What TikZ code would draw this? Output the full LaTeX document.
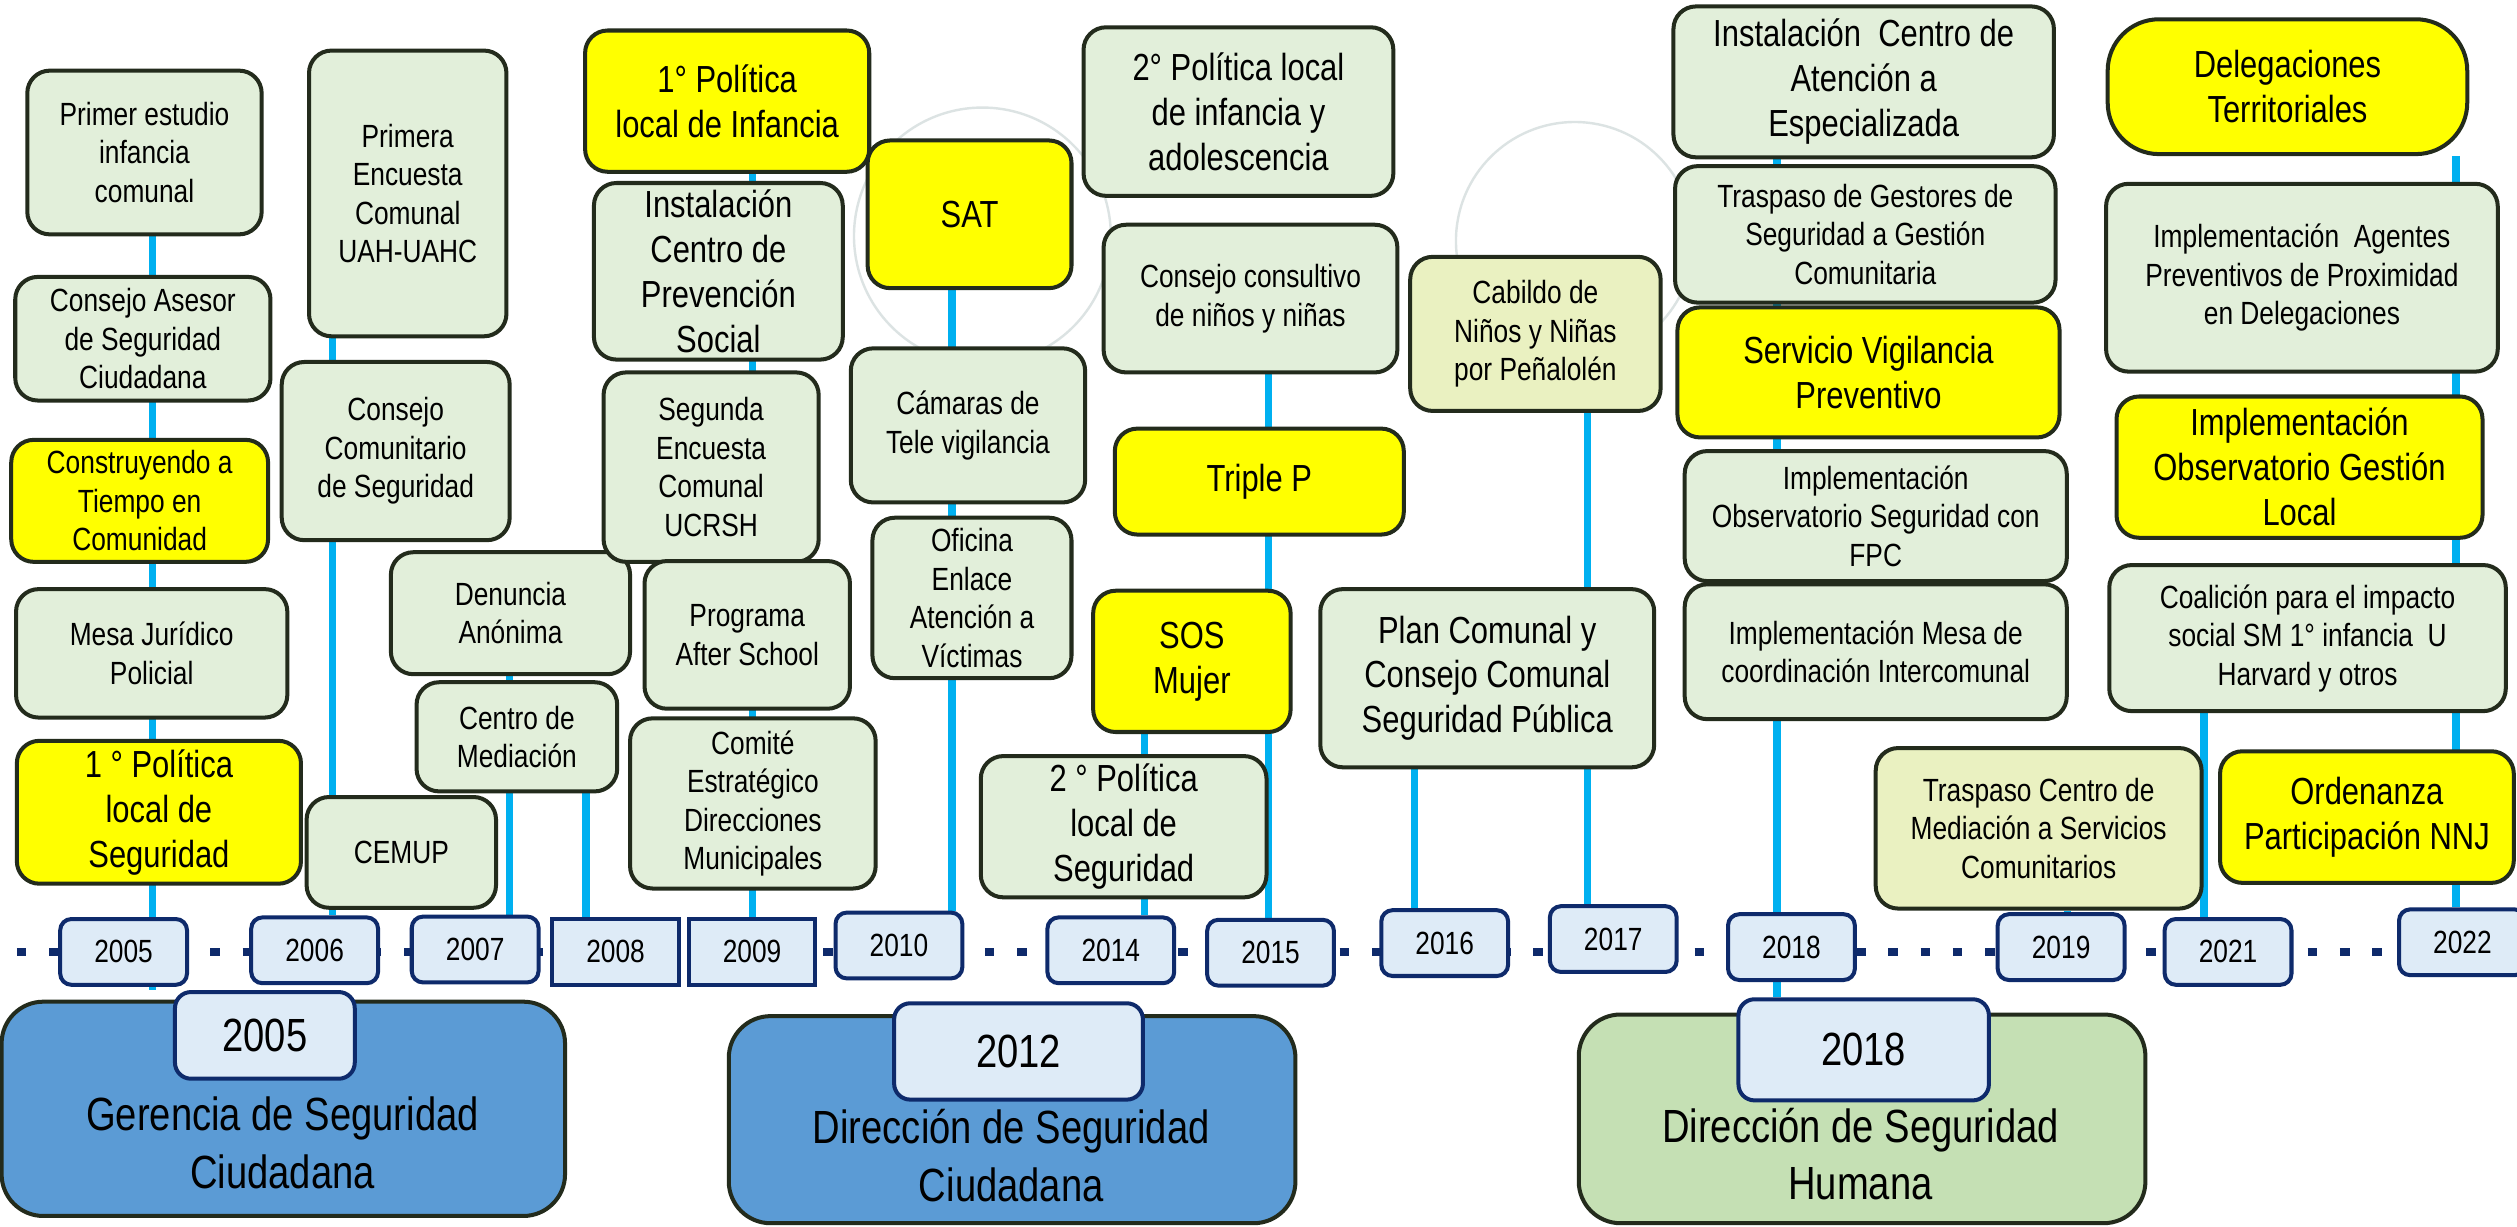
\documentclass[tikz,border=0pt]{standalone}
\usepackage{fontspec}
\setmainfont{Liberation Sans}[FakeStretch=0.82]
\usetikzlibrary{backgrounds}
\definecolor{boxgreen}{HTML}{E2EFDA}
\definecolor{boxyellow}{HTML}{FFFF00}
\definecolor{boxlime}{HTML}{EAF1C1}
\definecolor{boxline}{HTML}{232B1C}
\definecolor{lineblue}{HTML}{00B0F0}
\definecolor{yrfill}{HTML}{DEEBF7}
\definecolor{yrline}{HTML}{0E2A6B}
\definecolor{erablue}{HTML}{5B9BD5}
\definecolor{eragreen}{HTML}{C5E0B4}
\definecolor{faint}{HTML}{DCE3E3}
\newcommand{\tsm}{\fontsize{20}{24}\selectfont}
\newcommand{\tmd}{\fontsize{23.5}{28}\selectfont}
\newcommand{\tbg}{\fontsize{29}{36}\selectfont}
\tikzset{
  evt/.style={draw=boxline, line width=2.5pt, rounded corners=14pt, fill=boxgreen,
    align=center, inner sep=1pt, font=\tsm},
  evtm/.style={evt, font=\tmd},
  evty/.style={evt, fill=boxyellow, font=\tmd},
  evtl/.style={evt, fill=boxlime},
  yr/.style={draw=yrline, line width=2.5pt, rounded corners=7pt, fill=yrfill,
    minimum width=79pt, minimum height=41pt, font=\tsm},
  yrsq/.style={yr, sharp corners},
  tab/.style={yr, rounded corners=10pt, font=\tbg},
  era/.style={draw=boxline, line width=2.5pt, rounded corners=26pt},
  tline/.style={draw=lineblue, line width=4.5pt},
}
\begin{document}
\begin{tikzpicture}[x=1pt,y=-1pt]
\useasboundingbox (0,0) rectangle (1568,764);
% 2005
\node[evt, minimum width=146pt, minimum height=102pt] (a05) at (90,95) {Primer estudio\\infancia\\comunal};
\node[evt, minimum width=159pt, minimum height=77pt] (b05) at (89,211) {Consejo Asesor\\de Seguridad\\Ciudadana};
\node[evty, font=\tsm, minimum width=160pt, minimum height=76pt] (c05) at (87,312) {Construyendo a\\Tiempo en\\Comunidad};
\node[evt, minimum width=169pt, minimum height=80pt] (d05) at (94.5,407) {Mesa Jurídico\\Policial};
\node[evty, minimum width=177pt, minimum height=89pt] (e05) at (99,506) {1 ° Política\\local de\\Seguridad};
% 2006
\node[evt, minimum width=123pt, minimum height=178pt] (a06) at (254,120.5) {Primera\\Encuesta\\Comunal\\UAH-UAHC};
\node[evt, minimum width=142pt, minimum height=111pt] (b06) at (246.5,281) {Consejo\\Comunitario\\de Seguridad};
\node[evt, minimum width=118pt, minimum height=69pt] (c06) at (250,531) {CEMUP};
% 2007 - 2008
\node[evt, minimum width=149pt, minimum height=76pt] (a07) at (318,382) {Denuncia\\Anónima};
\node[evt, minimum width=125pt, minimum height=68pt] (b07) at (322,459) {Centro de\\Mediación};
% 2009
\node[evty, minimum width=177pt, minimum height=88pt] (a09) at (453,63) {1° Política\\local de Infancia};
\node[evtm, minimum width=155pt, minimum height=110pt] (b09) at (447.5,169) {Instalación\\Centro de\\Prevención\\Social};
\node[evt, minimum width=134pt, minimum height=118pt] (c09) at (443,291) {Segunda\\Encuesta\\Comunal\\UCRSH};
\node[evt, minimum width=128pt, minimum height=92pt] (d09) at (465.5,395.5) {Programa\\After School};
\node[evt, minimum width=153pt, minimum height=106pt] (e09) at (469,500.5) {Comité\\Estratégico\\Direcciones\\Municipales};
% 2010
\node[evty, minimum width=127pt, minimum height=92pt] (a10) at (604,133.5) {SAT};
\node[evt, minimum width=146pt, minimum height=96pt] (b10) at (603,265) {Cámaras de\\Tele vigilancia};
\node[evt, minimum width=124pt, minimum height=100pt] (c10) at (605.5,372.5) {Oficina\\Enlace\\Atención a\\Víctimas};
% 2014 - 2015
\node[evtm, minimum width=193pt, minimum height=105pt] (a14) at (771.5,69.5) {2° Política local\\de infancia y\\adolescencia};
\node[evt, minimum width=183pt, minimum height=92pt] (b14) at (779,186) {Consejo consultivo\\de niños y niñas};
\node[evty, minimum width=180pt, minimum height=66pt] (c14) at (784.5,300) {Triple P};
\node[evty, minimum width=123pt, minimum height=88pt] (d14) at (742.5,412) {SOS\\Mujer};
\node[evtm, minimum width=178pt, minimum height=88pt] (e14) at (700,515) {2 ° Política\\local de\\Seguridad};
% 2016 - 2017
\node[evtl, minimum width=156pt, minimum height=96pt] (a16) at (956.5,208) {Cabildo de\\Niños y Niñas\\por Peñalolén};
\node[evtm, minimum width=208pt, minimum height=111pt] (b16) at (926.5,422.5) {Plan Comunal y\\Consejo Comunal\\Seguridad Pública};
% 2018
\node[evtm, minimum width=237pt, minimum height=94pt] (a18) at (1161,51) {Instalación\ \ Centro de\\Atención a\\Especializada};
\node[evt, minimum width=237pt, minimum height=85pt] (b18) at (1162,146) {Traspaso de Gestores de\\Seguridad a Gestión\\Comunitaria};
\node[evty, minimum width=238pt, minimum height=81pt] (c18) at (1164,232) {Servicio Vigilancia\\Preventivo};
\node[evt, minimum width=238pt, minimum height=81pt] (d18) at (1168.5,321.5) {Implementación\\Observatorio Seguridad con\\FPC};
\node[evt, minimum width=238pt, minimum height=84pt] (e18) at (1168.5,406) {Implementación Mesa de\\coordinación Intercomunal};
% 2019
\node[evtl, minimum width=203pt, minimum height=100pt] (a19) at (1270,516) {Traspaso Centro de\\Mediación a Servicios\\Comunitarios};
% 2021 - 2022
\node[evty, rounded corners=32pt, minimum width=224pt, minimum height=84pt] (a21) at (1425,54) {Delegaciones\\Territoriales};
\node[evt, minimum width=244pt, minimum height=117pt] (b21) at (1434,173) {Implementación\ \ Agentes\\Preventivos de Proximidad\\en Delegaciones};
\node[evty, minimum width=228pt, minimum height=88pt] (c21) at (1432.5,291) {Implementación\\Observatorio Gestión\\Local};
\node[evt, minimum width=247pt, minimum height=91pt] (d21) at (1437.5,397.5) {Coalición para el impacto\\social SM 1° infancia\ \ U\\Harvard y otros};
\node[evty, minimum width=183pt, minimum height=82pt] (e21) at (1474.5,509) {Ordenanza\\Participación NNJ};
% year boxes on the time line
\foreach \n/\x/\y in {2005/77/593, 2006/196/592, 2007/296/591.5, 2010/560/589, 2014/692/592,
  2015/791.5/593.5, 2016/900/587.5, 2017/1005/585, 2018/1116/590, 2019/1284/590,
  2021/1388/593, 2022/1534/587}
\node[yr] (y\n) at (\x,\y) {\n};
\foreach \n/\x/\y in {2008/383.5/593, 2009/468.5/593}
\node[yrsq] (y\n) at (\x,\y) {\n};
% periods
\node[era, fill=erablue, minimum width=351pt, minimum height=133.5pt] (p2005) at (176.5,690.75) {};
\node[era, fill=erablue, minimum width=353pt, minimum height=129pt] (p2012) at (630.5,697.5) {};
\node[era, fill=eragreen, minimum width=353pt, minimum height=130pt] (p2018) at (1160,697) {};
\node[tab, minimum width=112pt, minimum height=54pt] (t2005) at (165,645) {2005};
\node[tab, minimum width=155pt, minimum height=60pt] (t2012) at (634.5,655) {2012};
\node[tab, minimum width=156pt, minimum height=63pt] (t2018) at (1161,654) {2018};
\node[font=\tbg, align=center] (n2005) at (176,712) {Gerencia de Seguridad\\Ciudadana};
\node[font=\tbg, align=center] (n2012) at (630,720) {Dirección de Seguridad\\Ciudadana};
\node[font=\tbg, align=center] (n2018) at (1159,719) {Dirección de Seguridad\\Humana};
\begin{pgfonlayer}{background}
\fill[white] (0,0) rectangle (1568,764);
% faint heads of the watermark
\draw[faint, line width=1.5pt] (612,147) circle (80) (981,150) circle (74);
\draw[yrline, line width=5pt, dash pattern=on 6pt off 14.1pt, dash phase=9.6pt] (0,593) -- (1568,593);
% vertical lines, x / from / to
\foreach \x/\a/\b in {95/a05/t2005, 207/a06/y2006, 317.5/a07/y2007, 365/b07/y2008, 469/a09/y2009,
  593/a10/y2010, 713/d14/y2014, 790/b14/y2015, 881/b16/y2016, 989/a16/y2017,
  1107/a18/t2018, 1288/a19/y2019, 1373/d21/y2021, 1530/a21/y2022}
\draw[tline] (\x,0 |- \a.south) -- (\x,0 |- \b.north);
\end{pgfonlayer}
\end{tikzpicture}
\end{document}
